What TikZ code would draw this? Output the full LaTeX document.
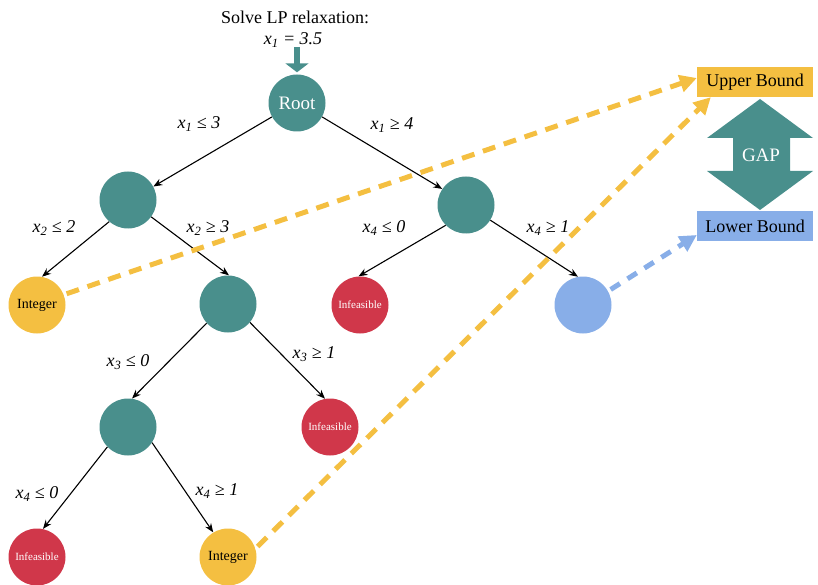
\documentclass[tikz,border=0pt]{standalone}
\usepackage{fontspec}
\setmainfont{Liberation Serif}
\usetikzlibrary{arrows.meta}
\definecolor{tealc}{RGB}{73,143,140}
\definecolor{redc}{RGB}{208,55,74}
\definecolor{yelc}{RGB}{244,191,65}
\definecolor{bluec}{RGB}{136,174,232}
\begin{document}
\begin{tikzpicture}[x=1pt,y=-1pt,
  bbnode/.style={circle,minimum size=57pt,inner sep=0pt},
  tealnode/.style={bbnode,fill=tealc,text=white,font=\fontsize{19}{21}\selectfont},
  infnode/.style={bbnode,fill=redc,text=white,font=\fontsize{11}{12}\selectfont},
  intnode/.style={bbnode,fill=yelc,text=black,font=\fontsize{14}{16}\selectfont},
  bluenode/.style={bbnode,fill=bluec},
  lbl/.style={font=\fontsize{18}{20}\selectfont\itshape,inner sep=0pt},
  edge/.style={draw=black,line width=1.1pt,-{Stealth[length=9pt,width=7pt]}},
  ydash/.style={draw=yelc,line width=5pt,dash pattern=on 13pt off 9pt,shorten <=3pt,-{Triangle[length=17pt,width=17pt]}},
  bdash/.style={draw=bluec,line width=5pt,dash pattern=on 11pt off 9pt,shorten <=3pt,-{Triangle[length=17pt,width=17pt]}},
  boundbox/.style={minimum width=116pt,minimum height=30pt,inner sep=0pt,font=\fontsize{18}{20}\selectfont}
]
\useasboundingbox (0,0) rectangle (818,585);

% top text
\node[font=\fontsize{18}{20}\selectfont,inner sep=0pt] (lp1) at (295,17) {Solve LP relaxation:};
\node[lbl] (lp2) at (293,40) {x\textsubscript{1} = 3.5};

% tree nodes
\node[tealnode] (root) at (297,103) {Root};
\node[tealnode] (a) at (128,200) {};
\node[tealnode] (b) at (466,205) {};
\node[intnode] (int1) at (37,305) {Integer};
\node[tealnode] (c) at (228,304) {};
\node[infnode] (inf1) at (360,305) {Infeasible};
\node[bluenode] (blue) at (583,305) {};
\node[tealnode] (d) at (128,427) {};
\node[infnode] (inf2) at (330,427) {Infeasible};
\node[infnode] (inf3) at (37,557) {Infeasible};
\node[intnode] (int2) at (228,557) {Integer};

% arrow into root
\coordinate (arrtop) at (297,47);
\draw[tealc,line width=6pt,-{Triangle[length=9pt,width=23pt]}] (arrtop) -- ([yshift=2pt]root.north);

% edges
\draw[edge] (root.209) -- (a.28);
\draw[edge] (root.-29) -- (b.146);
\draw[edge] (a.229) -- (int1.80);
\draw[edge] (a.-36) -- (c.88);
\draw[edge] (b.225) -- (inf1.93);
\draw[edge] (b.-32) -- (blue.100);
\draw[edge] (c.222) -- (d.82);
\draw[edge] (c.-40) -- (inf2.100);
\draw[edge] (d.224) -- (inf3.78);
\draw[edge] (d.-33) -- (int2.121);

% edge labels
\node[lbl] (l1) at (199,124) {x\textsubscript{1} ≤ 3};
\node[lbl] (l2) at (392,125) {x\textsubscript{1} ≥ 4};
\node[lbl] (l3) at (54,228) {x\textsubscript{2} ≤ 2};
\node[lbl] (l4) at (208,228) {x\textsubscript{2} ≥ 3};
\node[lbl] (l5) at (384,228) {x\textsubscript{4} ≤ 0};
\node[lbl] (l6) at (548,228) {x\textsubscript{4} ≥ 1};
\node[lbl] (l7) at (128,362) {x\textsubscript{3} ≤ 0};
\node[lbl] (l8) at (314,354) {x\textsubscript{3} ≥ 1};
\node[lbl] (l9) at (37,494) {x\textsubscript{4} ≤ 0};
\node[lbl] (l10) at (217,491) {x\textsubscript{4} ≥ 1};

% bounds
\node[boundbox,fill=yelc] (ub) at (755,82) {Upper Bound};
\node[boundbox,fill=bluec] (lb) at (755,226) {Lower Bound};
\fill[tealc] (760,99) -- (813,138) -- (790,138) -- (790,171) -- (813,171) -- (760,210)
  -- (707,171) -- (733,171) -- (733,138) -- (707,138) -- cycle;
\node[text=white,font=\fontsize{19}{21}\selectfont] (gap) at (761,155) {GAP};

% dashed connectors
\draw[ydash] (int1.21) -- ([yshift=4pt]ub.west);
\draw[ydash] (int2.17) -- ([xshift=14pt]ub.south west);
\draw[bdash] (blue.29) -- ([yshift=-9pt]lb.west);
\end{tikzpicture}
\end{document}
